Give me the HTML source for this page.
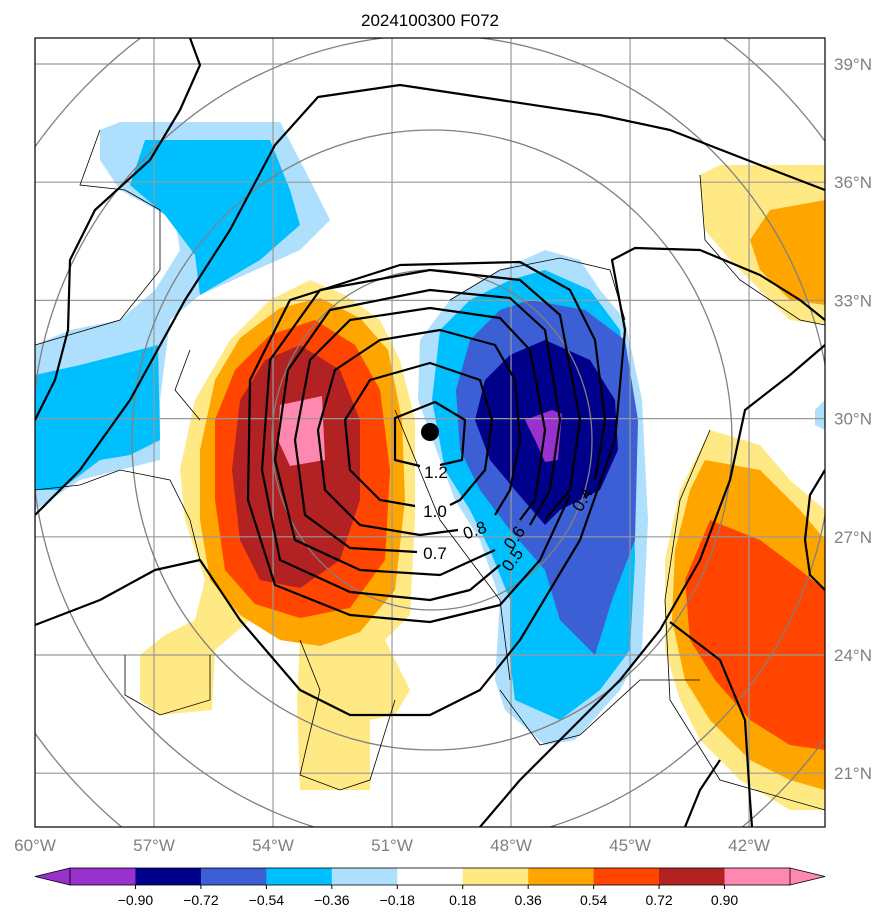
<!DOCTYPE html>
<html><head><meta charset="utf-8">
<style>
html,body{margin:0;padding:0;background:#fff;}
svg{display:block;font-family:"Liberation Sans","DejaVu Sans",sans-serif;}
</style></head>
<body>
<svg id="chart" width="895" height="924" viewBox="0 0 895 924" xmlns="http://www.w3.org/2000/svg">
<defs><clipPath id="pc"><rect x="35" y="38" width="790" height="789"/></clipPath></defs>
<text x="430" y="26" font-size="17" text-anchor="middle">2024100300 F072</text>
<g id="map" clip-path="url(#pc)">
<g>
<polygon fill="#FFE985" points="310,280 345,295 380,320 400,360 415,420 415,520 410,615 385,640 410,690 395,715 370,720 370,790 300,790 297,700 300,640 250,620 215,650 212,710 160,715 140,700 140,655 165,635 195,620 205,580 185,520 180,470 195,400 230,340 270,300"/>
<polygon fill="#FFA500" points="320,298 360,318 388,350 402,420 405,500 395,590 360,632 320,646 280,640 240,615 210,580 200,520 200,450 215,380 240,338 280,308"/>
<polygon fill="#FF4500" points="315,320 355,345 380,390 390,470 385,560 350,608 300,618 255,604 225,570 215,500 215,420 235,370 270,335"/>
<polygon fill="#B22222" points="300,345 340,370 360,420 360,500 340,560 300,588 260,580 240,540 232,470 240,400 265,360"/>
<polygon fill="#FF88B0" points="280,405 322,396 325,460 290,466 278,440"/>
</g>
<g>
<polygon fill="#AEDFFC" points="545,250 580,260 600,290 625,320 642,400 648,520 642,650 620,690 575,740 545,745 505,710 495,680 500,600 480,540 455,500 440,460 418,400 420,340 450,300 490,275"/>
<polygon fill="#00BFFF" points="545,270 590,290 620,330 632,420 635,560 630,650 600,690 560,720 515,700 510,660 510,600 490,550 470,510 445,470 432,400 440,330 470,300 510,280"/>
<polygon fill="#3C5FD6" points="530,300 585,310 625,340 638,420 635,540 612,600 595,655 560,620 545,570 510,530 480,490 460,450 456,390 470,340 500,310"/>
<polygon fill="#00008B" points="545,340 590,360 615,400 618,450 600,490 560,510 545,525 515,490 490,460 475,420 485,380 510,355"/>
<polygon fill="#9932CC" points="525,420 552,410 562,414 558,460 545,462 535,440"/>
</g>
<g>
<polygon fill="#AEDFFC" points="100,130 120,122 280,122 310,180 330,220 300,250 200,295 170,320 160,400 160,460 120,470 80,480 35,510 35,345 70,330 120,320 155,290 180,250 175,220 120,190 100,160"/>
<polygon fill="#00BFFF" points="145,140 270,140 290,190 300,225 260,260 200,295 195,255 165,215 130,185"/>
<polygon fill="#00BFFF" points="35,375 80,365 158,345 160,440 130,455 100,460 60,490 35,490"/>
<polygon fill="#AEDFFC" points="815,410 825,400 825,430 815,425"/>
</g>
<g>
<polygon fill="#FFE985" points="700,175 720,165 825,165 825,325 790,320 760,290 730,260 705,230"/>
<polygon fill="#FFA500" points="750,240 770,210 825,200 825,305 790,300 760,270"/>
<polygon fill="#FFE985" points="710,430 760,445 790,480 825,510 825,810 790,810 740,780 700,740 680,700 665,650 665,560 680,490"/>
<polygon fill="#FFA500" points="705,460 760,470 800,510 825,540 825,790 790,780 750,760 710,720 685,680 672,620 675,550 690,490"/>
<polygon fill="#FF4500" points="710,520 760,540 800,570 825,590 825,750 790,745 750,720 715,680 690,640 685,580"/>
</g>
<g id="grid" stroke="#999" stroke-width="1.2" fill="none"></g>
<g stroke="#808080" stroke-width="1.3" fill="none">
<ellipse cx="432" cy="440" rx="160" ry="170"/>
<ellipse cx="432" cy="440" rx="300" ry="310"/>
<ellipse cx="432" cy="440" rx="400" ry="405"/>
<ellipse cx="432" cy="440" rx="490" ry="500"/>
</g>
<g stroke="#000" stroke-width="0.8" fill="none">
<polyline points="100,130 80,185 125,190 160,210 160,270 120,320 35,345"/>
<polyline points="35,490 80,485 120,470 170,480 190,520 200,560"/>
<polyline points="125,655 125,695 160,715 210,700 210,655"/>
<polyline points="300,640 320,690 300,775 340,790 370,780 395,700"/>
<polyline points="450,300 500,270 560,258 610,270 625,320"/>
<polyline points="500,690 540,745 580,735 640,680 700,680"/>
<polyline points="700,175 705,240 740,280 800,320 825,325"/>
<polyline points="710,430 680,500 665,600 670,700 720,780 825,810"/>
<polyline points="190,350 175,390 200,420"/>
<polyline points="395,410 440,520 500,600 510,680"/>
</g>
<g stroke="#000" stroke-width="2.2" fill="none" stroke-linejoin="round">
<polyline points="420,466 395,460 395,418 435,402 465,420 462,460 440,465"/>
<polyline points="415,506 380,500 350,470 345,420 370,380 430,363 480,380 492,420 485,470 460,500 450,505"/>
<polyline points="458,530 420,535 360,525 325,490 318,430 335,370 380,340 440,330 495,345 515,380 520,440 510,490 495,515"/>
<polyline points="417,552 350,548 305,515 295,440 310,360 350,320 430,308 500,318 530,350 545,430 535,500 520,520"/>
<polyline points="495,550 440,575 360,570 295,540 275,460 288,370 330,310 430,290 510,298 545,330 560,420 550,490 530,525"/>
<polyline points="500,565 470,590 430,600 350,592 280,560 262,470 270,360 320,290 430,270 520,280 560,315 580,420 570,490 545,520"/>
<polyline points="570,495 540,560 500,605 430,622 350,615 275,585 248,500 250,380 290,300 400,265 520,262 570,290 595,340 605,420 595,480"/>
<polyline points="35,420 55,380 68,330 70,260 95,210 150,160 180,110 200,65 190,38"/>
<polyline points="35,515 80,470 130,400 185,300 230,230 275,145 318,97 400,85 500,100 600,115 670,130 760,165 825,190"/>
<polyline points="35,625 100,600 155,570 200,560 240,620 300,690 350,715 430,715 480,690 520,640 580,540 615,440 625,330 612,260 635,248 700,250 760,275 800,300 825,320"/>
<polyline points="480,827 520,780 560,740 620,680 660,630 700,560 730,480 745,410 790,375 825,345"/>
<polyline points="670,622 720,660 745,720 750,800 752,827"/>
<polyline points="685,827 700,790 720,760"/>
<polyline points="825,470 810,495 805,540 810,575 825,590"/>
</g>
<g font-size="17" text-anchor="middle">
<text x="436" y="478">1.2</text>
<text x="435" y="517">1.0</text>
<text x="475" y="536" transform="rotate(-20 475 531)">0.8</text>
<text x="435" y="559">0.7</text>
<text x="515" y="543" transform="rotate(-55 515 538)">0.6</text>
<text x="513" y="565" transform="rotate(-55 513 560)">0.5</text>
<text x="583" y="505" transform="rotate(-60 583 500)">0.4</text>
</g>
<circle cx="430" cy="432" r="9" fill="#000"/>
</g>
<rect x="35" y="38" width="790" height="789" fill="none" stroke="#000" stroke-width="1.2"/>
<g id="axislabels" font-size="17" fill="#808080"></g>
<g id="cbar"></g>
<script>
const lonTicks = [-60,-57,-54,-51,-48,-45,-42];
const latTicks = [39,36,33,30,27,24,21];
const cbLevels = [-0.90,-0.72,-0.54,-0.36,-0.18,0.18,0.36,0.54,0.72,0.90];
const cbColors = ["#9932CC","#00008B","#3C5FD6","#00BFFF","#AEDFFC","#FFFFFF","#FFE985","#FFA500","#FF4500","#B22222","#FF88B0"];
const NS="http://www.w3.org/2000/svg";
function xLon(l){return 35+(l+60)*39.67;}
function yLat(l){return 64+(39-l)*39.4;}
const grid=document.getElementById('grid');
const al=document.getElementById('axislabels');
lonTicks.forEach(l=>{
 const ln=document.createElementNS(NS,'line');
 
 
 ln.setAttribute('x1',xLon(l));ln.setAttribute('x2',xLon(l));ln.setAttribute('y1',38);ln.setAttribute('y2',827);
 grid.appendChild(ln);
 const t=document.createElementNS(NS,'text');
 
 
 t.setAttribute('x',xLon(l));t.setAttribute('y',851);t.setAttribute('text-anchor','middle');
 t.textContent=Math.abs(l)+'°W';al.appendChild(t);
});
latTicks.forEach(l=>{
 const ln=document.createElementNS(NS,'line');
 
 
 ln.setAttribute('x1',35);ln.setAttribute('x2',825);ln.setAttribute('y1',yLat(l));ln.setAttribute('y2',yLat(l));
 grid.appendChild(ln);
 const t=document.createElementNS(NS,'text');
 
 
 t.setAttribute('x',834);t.setAttribute('y',yLat(l)+6);
 t.textContent=l+'°N';al.appendChild(t);
});
const cb=document.getElementById('cbar');
const x0=70,x1=790,y0=868,h=17,n=cbColors.length,w=(x1-x0)/n;
function add(tag,attrs){const e=document.createElementNS(NS,tag);for(const k in attrs)e.setAttribute(k,attrs[k]);cb.appendChild(e);return e;}
let lt=add('polygon',{points:`35,${y0+h/2} ${x0},${y0} ${x0},${y0+h}`,fill:cbColors[0],stroke:'#000','stroke-width':0.8});


let rt=add('polygon',{points:`825,${y0+h/2} ${x1},${y0} ${x1},${y0+h}`,fill:cbColors[n-1],stroke:'#000','stroke-width':0.8});


cbColors.forEach((c,i)=>{
 const r=add('rect',{x:x0+i*w,y:y0,width:w+0.5,height:h,fill:c});
 
 
});
let fr=add('rect',{x:x0,y:y0,width:x1-x0,height:h,fill:'none',stroke:'#000','stroke-width':0.8});


cbLevels.forEach((v,i)=>{
 const x=x0+(i+1)*w;
 const tk=add('line',{x1:x,x2:x,y1:y0+h,y2:y0+h+4,stroke:'#000'});
 
 
 const t=add('text',{x:x,y:y0+h+20,'text-anchor':'middle','font-size':14});
 
 
 t.textContent=(v<0?'\u2212':'')+Math.abs(v).toFixed(2);
});
</script>
</svg>
</body></html>
